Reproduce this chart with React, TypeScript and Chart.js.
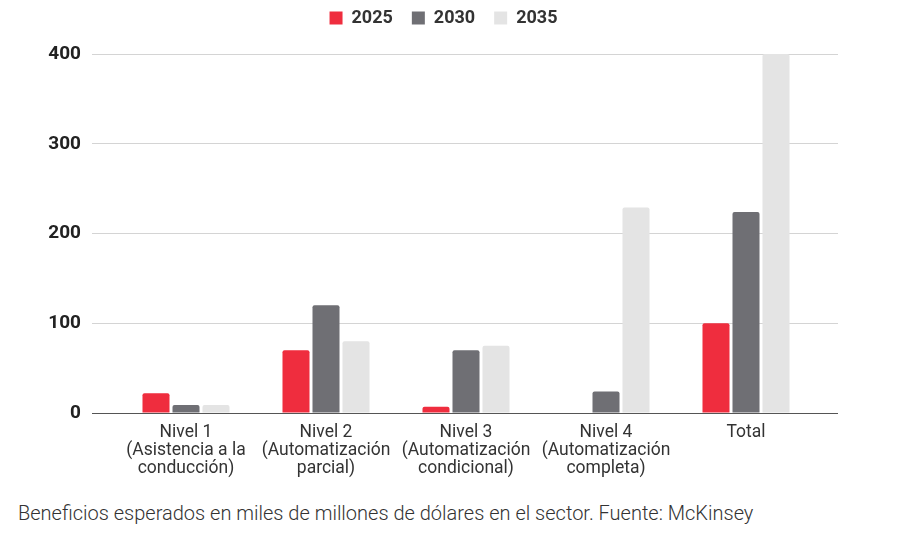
import React, { useEffect, useRef } from "react";
import { Chart, registerables } from "chart.js";

Chart.register(...registerables);

const categories: string[][] = [
  ["Nivel 1", "(Asistencia a la", "conducción)"],
  ["Nivel 2", "(Automatización", "parcial)"],
  ["Nivel 3", "(Automatización", "condicional)"],
  ["Nivel 4", "(Automatización", "completa)"],
  ["Total"],
];
const seriesNames = ["2025", "2030", "2035"];
const values2025 = [22, 70, 7, 0, 100];
const values2030 = [9, 120, 70, 24, 224];
const values2035 = [9, 80, 75, 229, 400];
const seriesColors = ["#EF2D3E", "#6F6F74", "#E4E4E4"];
const yTicks = [0, 100, 200, 300, 400];
const caption =
  "Beneficios esperados en miles de millones de dólares en el sector. Fuente: McKinsey";

const legendHeightPlugin = {
  id: "legendHeight",
  beforeLayout(chart: any) {
    const lg = chart.legend;
    if (lg && !lg.__patched) {
      const orig = lg.fit;
      lg.fit = function () {
        orig.call(this);
        this.height = 64;
      };
      lg.__patched = true;
    }
  },
  afterLayout(chart: any) {
    const lg = chart.legend;
    if (lg) lg.right = lg.right - 16;
  },
};

export default function App() {
  const ref = useRef<HTMLCanvasElement | null>(null);

  useEffect(() => {
    if (!ref.current) return;
    const gridColor = (ctx: any) =>
      ctx.tick && ctx.tick.value === 0 ? "#555555" : "#D4D4D4";
    const chart = new Chart(ref.current, {
      type: "bar",
      data: {
        labels: categories,
        datasets: [values2025, values2030, values2035].map((v, i) => ({
          label: seriesNames[i],
          data: v,
          backgroundColor: seriesColors[i],
          borderRadius: 2,
          categoryPercentage: 0.643,
          barPercentage: 0.9,
        })),
      },
      plugins: [legendHeightPlugin],
      options: {
        responsive: false,
        animation: false,
        layout: { padding: { top: 0, bottom: 0, left: 0, right: 0 } },
        plugins: {
          tooltip: { enabled: false },
          legend: {
            position: "top",
            align: "center",
            labels: {
              boxWidth: 13,
              boxHeight: 13,
              padding: 19,
              color: "#333333",
              font: { family: "Roboto", size: 18, weight: "bold" },
            },
          },
        },
        scales: {
          x: {
            grid: { display: false },
            border: { display: false },
            afterFit: (s: any) => {
              s.height = 77;
            },
            ticks: {
              color: "#333333",
              padding: 3,
              maxRotation: 0,
              autoSkip: false,
              font: { family: "Roboto", size: 17.5, lineHeight: "18px" },
            },
          },
          y: {
            position: "left",
            min: 0,
            max: 400,
            afterBuildTicks: (s: any) => {
              s.ticks = yTicks.map((v) => ({ value: v }));
            },
            afterFit: (s: any) => {
              s.width = 116;
            },
            border: { display: false },
            grid: {
              color: gridColor,
              tickColor: gridColor,
              tickLength: 24,
              lineWidth: 1,
            },
            ticks: {
              padding: 11,
              color: "#222222",
              font: { family: "Roboto", size: 19, weight: "bold" },
            },
          },
          yRight: {
            position: "right",
            min: 0,
            max: 400,
            afterBuildTicks: (s: any) => {
              s.ticks = yTicks.map((v) => ({ value: v }));
            },
            afterFit: (s: any) => {
              s.width = 87;
            },
            border: { display: false },
            grid: {
              drawOnChartArea: false,
              color: gridColor,
              tickColor: gridColor,
              tickLength: 22,
            },
            ticks: { display: false },
          },
        },
      },
    });
    return () => chart.destroy();
  }, []);

  return (
    <div
      style={{
        position: "fixed",
        left: 0,
        top: 0,
        width: 903,
        height: 546,
        background: "#ffffff",
        overflow: "hidden",
      }}
    >
      <canvas
        ref={ref}
        width={903}
        height={500}
        style={{ display: "block", position: "absolute", left: 0, top: -10 }}
      />
      <div
        style={{
          position: "absolute",
          left: 18,
          top: 501,
          fontFamily: "Roboto",
          fontWeight: 300,
          fontSize: 20,
          color: "#333333",
          whiteSpace: "nowrap",
        }}
      >
        {caption}
      </div>
    </div>
  );
}
